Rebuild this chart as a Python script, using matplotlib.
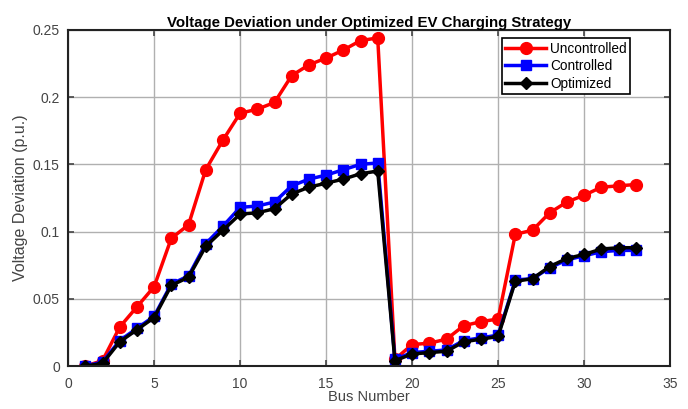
import matplotlib
matplotlib.use("Agg")
import matplotlib.pyplot as plt

plt.rcParams["font.family"] = ["Liberation Sans", "DejaVu Sans"]

# bus numbers and voltage deviation (p.u.)
buses = list(range(1, 34))
uncontrolled = [0.000, 0.004, 0.029, 0.044, 0.059, 0.095, 0.105, 0.146, 0.168, 0.188,
                0.191, 0.196, 0.216, 0.224, 0.229, 0.235, 0.242, 0.244, 0.005, 0.016,
                0.017, 0.020, 0.030, 0.033, 0.035, 0.098, 0.101, 0.114, 0.122, 0.127,
                0.133, 0.134, 0.135]
controlled = [0.000, 0.003, 0.019, 0.028, 0.037, 0.061, 0.067, 0.091, 0.104, 0.118,
              0.119, 0.122, 0.134, 0.139, 0.142, 0.146, 0.150, 0.151, 0.005, 0.010,
              0.011, 0.012, 0.019, 0.021, 0.023, 0.064, 0.065, 0.073, 0.079, 0.082,
              0.085, 0.086, 0.086]
optimized = [0.000, 0.002, 0.018, 0.027, 0.036, 0.060, 0.066, 0.089, 0.101, 0.113,
             0.114, 0.117, 0.128, 0.133, 0.136, 0.139, 0.143, 0.145, 0.004, 0.009,
             0.010, 0.011, 0.018, 0.020, 0.022, 0.063, 0.065, 0.074, 0.080, 0.083,
             0.087, 0.088, 0.088]

fig = plt.figure(figsize=(6.88, 4.09), dpi=100)
ax = fig.add_axes([0.099, 0.105, 0.875, 0.822])

ax.plot(buses, uncontrolled, "-o", color="red", lw=2.5, ms=8.5, label="Uncontrolled")
ax.plot(buses, controlled, "-s", color="blue", lw=2.5, ms=6.5, label="Controlled")
ax.plot(buses, optimized, "-D", color="black", lw=2.5, ms=6, label="Optimized")

ax.set_xlim(0, 35)
ax.set_ylim(0, 0.25)
ax.set_xticks([0, 5, 10, 15, 20, 25, 30, 35])
ax.set_yticks([0, 0.05, 0.1, 0.15, 0.2, 0.25])
ax.set_yticklabels(["0", "0.05", "0.1", "0.15", "0.2", "0.25"])
ax.grid(True, color="#b0b0b0", lw=1)
ax.tick_params(direction="in", top=True, right=True, labelsize=10, colors="#444444",
               length=4, width=1.2)
ax.tick_params(axis="x", pad=8)
ax.tick_params(axis="y", pad=6)
for s in ax.spines.values():
    s.set_linewidth(1.5)
    s.set_color("#222222")

ax.set_xlabel("Bus Number", fontsize=10.5, color="#444444", labelpad=-1)
ax.set_ylabel("Voltage Deviation (p.u.)", fontsize=11.5, color="#444444", labelpad=3)
ax.set_title("Voltage Deviation under Optimized EV Charging Strategy",
             fontsize=10.8, fontweight="bold", pad=2)

leg = ax.legend(loc="upper right", bbox_to_anchor=(0.945, 0.995), fontsize=9.8,
                fancybox=False, framealpha=1, edgecolor="black",
                handlelength=3.0, borderpad=0.25, labelspacing=0.25, handletextpad=0.3)
leg.get_frame().set_linewidth(1.2)

fig.savefig("out.png", dpi=100)
